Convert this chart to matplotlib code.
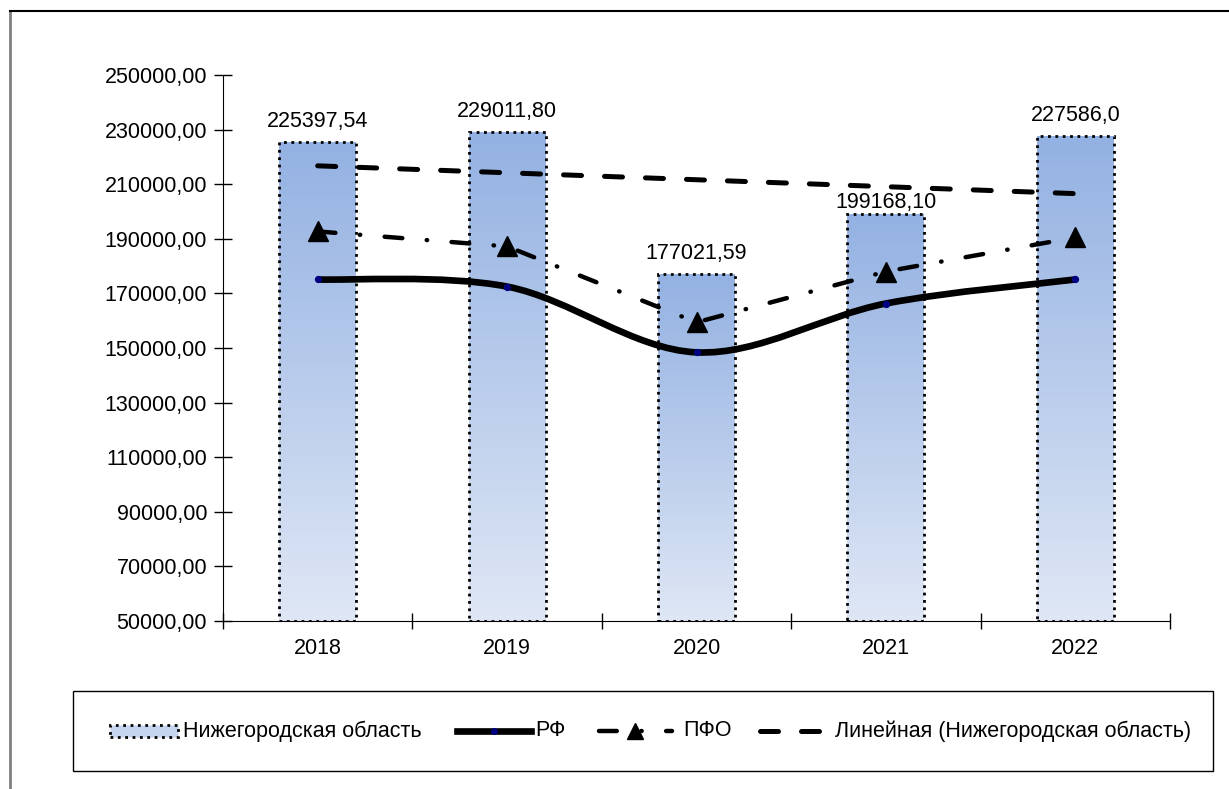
import matplotlib
matplotlib.use("Agg")
import matplotlib.pyplot as plt
import numpy as np
from matplotlib.path import Path
from matplotlib.patches import PathPatch, Rectangle
from matplotlib.lines import Line2D
from matplotlib.colors import LinearSegmentedColormap

plt.rcParams["font.family"] = ["Liberation Sans", "DejaVu Sans"]

years = ["2018", "2019", "2020", "2021", "2022"]
nizhny = [225397.54, 229011.80, 177021.59, 199168.10, 227586.0]
nizhny_labels = ["225397,54", "229011,80", "177021,59", "199168,10", "227586,0"]
rf = [175100, 172500, 148400, 166300, 175100]
pfo = [192700, 187200, 159400, 178000, 190500]
label_offsets = [11, 11, 11, 4.3, 11]  # points above bar top (baseline)

x = np.arange(1, len(years) + 1)
fs = 15.5
W, H = 1229, 789


def fx(px):
    return px / W


def fy(py):
    return 1 - py / H


fig = plt.figure(figsize=(W / 100, H / 100), dpi=100)
ax = fig.add_axes([fx(223), fy(621), (1170 - 223) / W, 546 / H])

# bars with vertical gradient
cmap = LinearSegmentedColormap.from_list("bar", ["#dfe7f5", "#93b1e2"])
grad = np.linspace(0, 1, 256).reshape(-1, 1)
bw = 0.406
bars = ax.bar(x, np.array(nizhny) - 50000, bottom=50000, width=bw,
              facecolor="none", edgecolor="black", linestyle=":",
              linewidth=2.0, zorder=3)
for b in bars:
    bx, by = b.get_x(), b.get_y()
    im = ax.imshow(grad, cmap=cmap, origin="lower", aspect="auto",
                   extent=[bx, bx + b.get_width(), by, by + b.get_height()],
                   zorder=2)
    im.set_clip_path(b)
ax.set_xlim(0.5, 5.5)
ax.set_ylim(50000, 250000)

for xi, v, lab, off in zip(x, nizhny, nizhny_labels, label_offsets):
    ax.annotate(lab, (xi, v), xytext=(0, off), textcoords="offset points",
                ha="center", va="baseline", fontsize=fs)

# linear trend of the bars
k, c = np.polyfit(x, nizhny, 1)
trend_ls = (0, (3.6, 4.6))
ax.plot(x, k * x + c, color="black", lw=3.6, ls=trend_ls,
        dash_capstyle="round", zorder=4)

# PFO
pfo_ls = (0, (4.0, 5.5, 0.1, 5.5))
ax.plot(x, pfo, color="black", lw=3.2, ls=pfo_ls,
        dash_capstyle="round", marker="^", markersize=15, zorder=5)

# RF smooth line (Catmull-Rom -> cubic Bezier)
pts = np.column_stack([x, rf]).astype(float)
ext = np.vstack([pts[0], pts, pts[-1]])
verts = [pts[0]]
codes = [Path.MOVETO]
for i in range(1, len(ext) - 2):
    p0, p1, p2, p3 = ext[i - 1], ext[i], ext[i + 1], ext[i + 2]
    verts += [p1 + (p2 - p0) / 6, p2 - (p3 - p1) / 6, p2]
    codes += [Path.CURVE4] * 3
ax.add_patch(PathPatch(Path(verts, codes), facecolor="none",
                       edgecolor="black", lw=4.8, zorder=6))
ax.scatter(x, rf, s=18, color="#000080", zorder=7)

# axes styling
for s in ["top", "right"]:
    ax.spines[s].set_visible(False)
yt = np.arange(50000, 250001, 20000)
ax.set_yticks(yt)
ax.set_yticklabels([f"{v},00" for v in yt], fontsize=fs)
ax.tick_params(axis="y", direction="inout", length=13, width=1, pad=5)
ax.set_xticks(np.arange(0.5, 5.6, 1))
ax.set_xticklabels([])
ax.tick_params(axis="x", which="major", direction="inout", length=12, width=1)
ax.set_xticks(x, minor=True)
ax.set_xticklabels(years, minor=True, fontsize=fs)
ax.tick_params(axis="x", which="minor", length=0, pad=12)

# legend, drawn by hand in figure pixels
tf = fig.transFigure
ly = 731
fig.add_artist(Rectangle((fx(73), fy(771)), 1140 / W, 80 / H, transform=tf,
                         fill=False, edgecolor="black", lw=1.0))
fig.add_artist(Rectangle((fx(110), fy(737)), 68 / W, 12 / H, transform=tf,
                         facecolor="#c5d5ef", edgecolor="black", ls=":", lw=2))
fig.text(fx(183), fy(ly), "Нижегородская область", fontsize=fs, va="center")
fig.add_artist(Line2D([fx(457), fx(494), fx(531)], [fy(ly)] * 3, transform=tf,
                      color="black", lw=4.8, marker="o", markersize=4,
                      markevery=[1], markerfacecolor="#000080",
                      markeredgecolor="#000080"))
fig.text(fx(535), fy(ly), "РФ", fontsize=fs, va="center")
fig.add_artist(Line2D([fx(599), fx(635), fx(672)], [fy(ly)] * 3, transform=tf,
                      color="black", lw=3.2, ls=pfo_ls, dash_capstyle="round",
                      marker="^", markersize=12, markevery=[1]))
fig.text(fx(683), fy(ly), "ПФО", fontsize=fs, va="center")
fig.add_artist(Line2D([fx(760), fx(822)], [fy(ly)] * 2, transform=tf,
                      color="black", lw=3.6, ls=trend_ls,
                      dash_capstyle="round"))
fig.text(fx(835), fy(ly), "Линейная (Нижегородская область)", fontsize=fs,
         va="center")

# outer chart frame
fig.add_artist(Line2D([fx(10), fx(10)], [0, fy(11)], transform=tf,
                      color="#808080", lw=2))
fig.add_artist(Line2D([fx(10), 1], [fy(11), fy(11)], transform=tf,
                      color="black", lw=1.5))

fig.savefig("out.png", dpi=100)
